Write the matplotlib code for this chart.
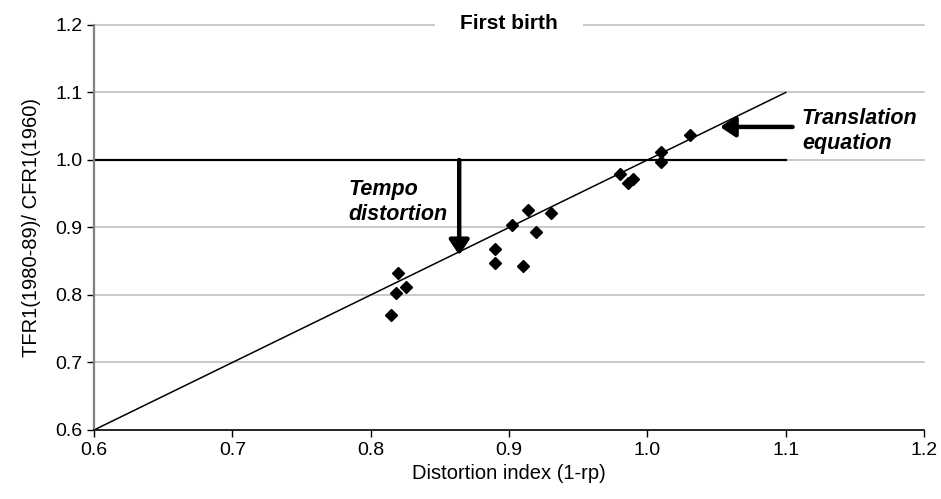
import matplotlib
matplotlib.use("Agg")
import matplotlib.pyplot as plt

plt.rcParams['font.family'] = ['Liberation Sans', 'DejaVu Sans']

# Data
distortion_index = [0.8147, 0.8184, 0.8200, 0.8254, 0.8900, 0.8900, 0.9100,
                    0.9025, 0.9140, 0.9194, 0.9304, 0.9800, 0.9859, 0.9895,
                    1.0100, 1.0100, 1.0305]
tfr_ratio = [0.7704, 0.8034, 0.8320, 0.8123, 0.8680, 0.8480, 0.8425,
             0.9037, 0.9260, 0.8930, 0.9210, 0.9788, 0.9655, 0.9719,
             1.0123, 0.9975, 1.0370]
line_x = [0.6, 1.1]
line_y = [0.6, 1.1]
ref_x = [0.6, 1.1]
ref_y = [1.0, 1.0]
x_ticks = [0.6, 0.7, 0.8, 0.9, 1.0, 1.1, 1.2]
y_ticks = [0.6, 0.7, 0.8, 0.9, 1.0, 1.1, 1.2]

fig = plt.figure(figsize=(9.41, 4.99), dpi=100)
ax = fig.add_axes([94/941, 1-430/499, 830/941, 405/499])

ax.set_xlim(0.6, 1.2)
ax.set_ylim(0.6, 1.2)
ax.set_xticks(x_ticks)
ax.set_yticks(y_ticks)
ax.set_xticklabels([f"{v:.1f}" for v in x_ticks])
ax.set_yticklabels([f"{v:.1f}" for v in y_ticks])

for y in y_ticks[1:]:
    ax.axhline(y, color='#c0c0c0', lw=1.2, zorder=0, clip_on=False)

ax.plot(ref_x, ref_y, color='black', lw=1.6, zorder=2)
ax.plot(line_x, line_y, color='black', lw=1.1, zorder=2)
ax.plot(distortion_index, tfr_ratio, linestyle='none', marker='D',
        ms=6.5, color='black', zorder=3)

for s in ['top', 'right']:
    ax.spines[s].set_visible(False)
ax.spines['left'].set_color('#808080')
ax.spines['left'].set_linewidth(1.6)
ax.spines['bottom'].set_color('black')
ax.spines['bottom'].set_linewidth(1.2)

ax.tick_params(axis='both', direction='out', length=5, width=1, labelsize=14,
               colors='black')

ax.set_xlabel('Distortion index (1-rp)', fontsize=14.5, labelpad=4)
ax.set_ylabel('TFR1(1980-89)/ CFR1(1960)', fontsize=14.5, labelpad=10)

ax.text(0.9, 1.194, 'First birth', ha='center', va='baseline', fontsize=15,
        fontweight='bold', zorder=5, clip_on=False,
        bbox=dict(facecolor='white', edgecolor='none', pad=18))

arrow_style = dict(arrowstyle='-|>,head_width=0.6,head_length=0.9', lw=3.2,
                   color='black', shrinkA=0, shrinkB=0)
ax.annotate('', xy=(0.864, 0.859), xytext=(0.864, 1.0), arrowprops=arrow_style,
            zorder=4)
ax.annotate('', xy=(1.0526, 1.049), xytext=(1.105, 1.049), arrowprops=arrow_style,
            zorder=4)

ax.text(0.784, 0.938, 'Tempo\ndistortion', ha='left', va='center', fontsize=15.5,
        fontweight='bold', fontstyle='italic', linespacing=1.25)
ax.text(1.1117, 1.043, 'Translation\nequation', ha='left', va='center',
        fontsize=15.5, fontweight='bold', fontstyle='italic', linespacing=1.25)

fig.savefig('out.png', dpi=100)
